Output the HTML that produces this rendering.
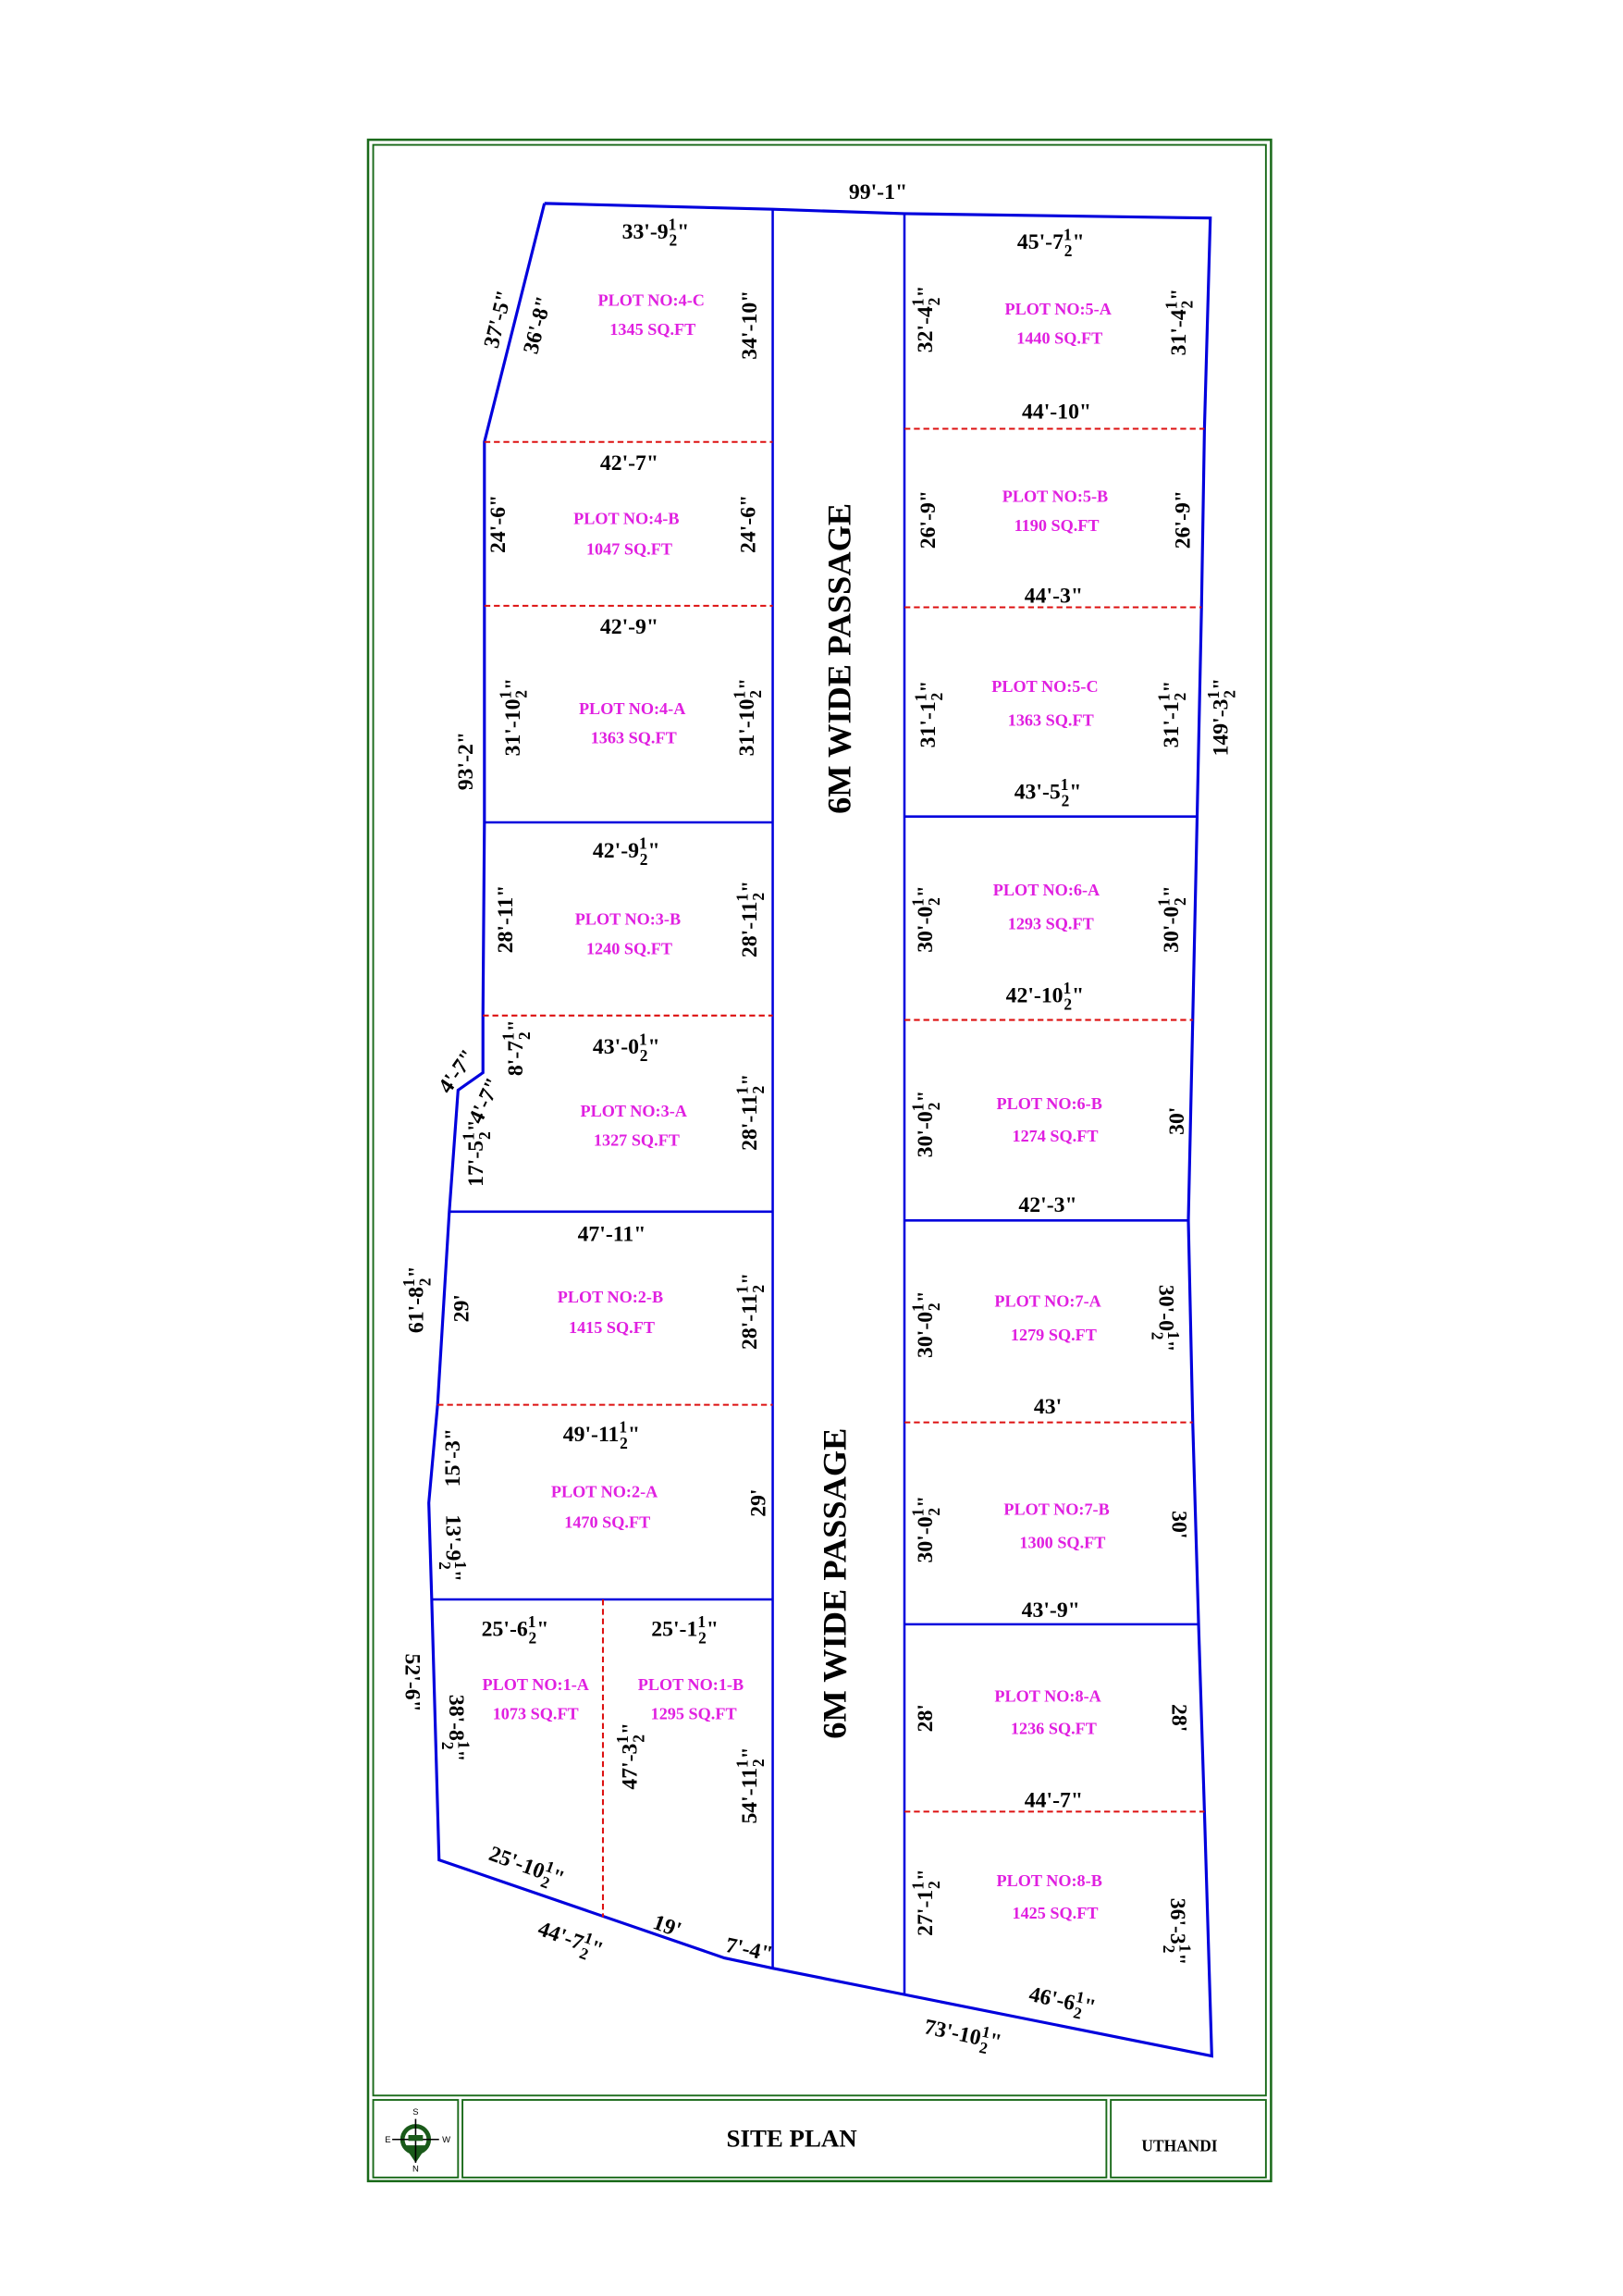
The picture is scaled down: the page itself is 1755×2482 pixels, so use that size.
<!DOCTYPE html>
<html><head><meta charset="utf-8"><style>
html,body{margin:0;padding:0;background:#fff}
svg{display:block}
.d{font-family:"Liberation Serif",serif;font-weight:bold;font-size:15px;fill:#000;text-anchor:middle}
.p{font-family:"Liberation Serif",serif;font-weight:bold;font-size:11.5px;fill:#e020e0;text-anchor:middle}
.f{font-size:11px}
</style></head><body>
<svg width="1755" height="2482" viewBox="0 0 1109 1569" preserveAspectRatio="none" xmlns="http://www.w3.org/2000/svg">
<g fill="none" stroke="#1a6a1a">
<rect x="251.5" y="95.5" width="617" height="1395" stroke-width="1.6"/>
<rect x="255" y="99" width="610" height="1333" stroke-width="1.2"/>
<rect x="255" y="1435" width="58" height="53" stroke-width="1.2"/>
<rect x="316" y="1435" width="440" height="53" stroke-width="1.2"/>
<rect x="759" y="1435" width="106" height="53" stroke-width="1.2"/>
</g>
<g fill="none" stroke="#0000dd" stroke-width="2">
<polyline points="372,139 528,143 618,146 827,149 823,293 821,415 818,558 815,697 812,834 815,972 819,1110 823,1238 828,1405 618,1363 528,1345 495,1338 300,1271 295,1093 293,1027 299,960 307,828 313,745 330,733 330,693 331,562 331,302 372,139"/>
</g>
<g stroke="#0000dd" stroke-width="1.6">
<line x1="528" y1="143" x2="528" y2="1345"/>
<line x1="618" y1="146" x2="618" y2="1363"/>
<line x1="331" y1="562" x2="528" y2="562"/>
<line x1="307" y1="828" x2="528" y2="828"/>
<line x1="295" y1="1093" x2="528" y2="1093"/>
<line x1="618" y1="558" x2="818" y2="558"/>
<line x1="618" y1="834" x2="812" y2="834"/>
<line x1="618" y1="1110" x2="819" y2="1110"/>
</g>
<g stroke="#dd1111" stroke-width="1.3" stroke-dasharray="4,2.5">
<line x1="331" y1="302" x2="528" y2="302"/>
<line x1="331" y1="414" x2="528" y2="414"/>
<line x1="330" y1="694" x2="528" y2="694"/>
<line x1="299" y1="960" x2="528" y2="960"/>
<line x1="618" y1="293" x2="823" y2="293"/>
<line x1="618" y1="415" x2="821" y2="415"/>
<line x1="618" y1="697" x2="815" y2="697"/>
<line x1="618" y1="972" x2="815" y2="972"/>
<line x1="618" y1="1238" x2="823" y2="1238"/>
<line x1="412" y1="1093" x2="412" y2="1310"/>
</g>

<text class="d" style="font-size:23px" transform="rotate(-90 573 450)" x="573" y="458">6M WIDE PASSAGE</text>
<text class="d" style="font-size:23px" transform="rotate(-90 570 1082)" x="570" y="1090">6M WIDE PASSAGE</text>

<g class="p">
<text x="445" y="209">PLOT NO:4-C</text><text x="446" y="229">1345 SQ.FT</text>
<text x="723" y="215">PLOT NO:5-A</text><text x="724" y="235">1440 SQ.FT</text>
<text x="428" y="358">PLOT NO:4-B</text><text x="430" y="379">1047 SQ.FT</text>
<text x="721" y="343">PLOT NO:5-B</text><text x="722" y="363">1190 SQ.FT</text>
<text x="432" y="488">PLOT NO:4-A</text><text x="433" y="508">1363 SQ.FT</text>
<text x="714" y="473">PLOT NO:5-C</text><text x="718" y="496">1363 SQ.FT</text>
<text x="429" y="632">PLOT NO:3-B</text><text x="430" y="652">1240 SQ.FT</text>
<text x="715" y="612">PLOT NO:6-A</text><text x="718" y="635">1293 SQ.FT</text>
<text x="433" y="763">PLOT NO:3-A</text><text x="435" y="783">1327 SQ.FT</text>
<text x="717" y="758">PLOT NO:6-B</text><text x="721" y="780">1274 SQ.FT</text>
<text x="417" y="890">PLOT NO:2-B</text><text x="418" y="911">1415 SQ.FT</text>
<text x="716" y="893">PLOT NO:7-A</text><text x="720" y="916">1279 SQ.FT</text>
<text x="413" y="1023">PLOT NO:2-A</text><text x="415" y="1044">1470 SQ.FT</text>
<text x="722" y="1035">PLOT NO:7-B</text><text x="726" y="1058">1300 SQ.FT</text>
<text x="366" y="1155">PLOT NO:1-A</text><text x="366" y="1175">1073 SQ.FT</text>
<text x="472" y="1155">PLOT NO:1-B</text><text x="474" y="1175">1295 SQ.FT</text>
<text x="716" y="1163">PLOT NO:8-A</text><text x="720" y="1185">1236 SQ.FT</text>
<text x="717" y="1289">PLOT NO:8-B</text><text x="721" y="1311">1425 SQ.FT</text>
</g>

<g class="d">
<text x="600" y="136">99'-1"</text>
<text x="448" y="163">33'-9<tspan class="f" dy="-6">1</tspan><tspan class="f" dx="-5" dy="11">2</tspan><tspan dy="-5">"</tspan></text>
<text x="718" y="170">45'-7<tspan class="f" dy="-6">1</tspan><tspan class="f" dx="-5" dy="11">2</tspan><tspan dy="-5">"</tspan></text>
<text transform="rotate(-76 340 218)" x="340" y="223">37'-5"</text>
<text transform="rotate(-76 367 222)" x="367" y="227">36'-8"</text>
<text transform="rotate(-90 512 222)" x="512" y="227">34'-10"</text>
<text transform="rotate(-90 632 218)" x="632" y="223">32'-4<tspan class="f" dy="-6">1</tspan><tspan class="f" dx="-5" dy="11">2</tspan><tspan dy="-5">"</tspan></text>
<text transform="rotate(-90 805 220)" x="805" y="225">31'-4<tspan class="f" dy="-6">1</tspan><tspan class="f" dx="-5" dy="11">2</tspan><tspan dy="-5">"</tspan></text>
<text x="722" y="286">44'-10"</text>
<text x="430" y="321">42'-7"</text>
<text transform="rotate(-90 340 358)" x="340" y="363">24'-6"</text>
<text transform="rotate(-90 511 358)" x="511" y="363">24'-6"</text>
<text transform="rotate(-90 634 355)" x="634" y="360">26'-9"</text>
<text transform="rotate(-90 808 355)" x="808" y="360">26'-9"</text>
<text x="720" y="412">44'-3"</text>
<text x="430" y="433">42'-9"</text>
<text transform="rotate(-90 350 490)" x="350" y="495">31'-10<tspan class="f" dy="-6">1</tspan><tspan class="f" dx="-5" dy="11">2</tspan><tspan dy="-5">"</tspan></text>
<text transform="rotate(-90 510 490)" x="510" y="495">31'-10<tspan class="f" dy="-6">1</tspan><tspan class="f" dx="-5" dy="11">2</tspan><tspan dy="-5">"</tspan></text>
<text transform="rotate(-90 318 520)" x="318" y="525">93'-2"</text>
<text transform="rotate(-90 634 488)" x="634" y="493">31'-1<tspan class="f" dy="-6">1</tspan><tspan class="f" dx="-5" dy="11">2</tspan><tspan dy="-5">"</tspan></text>
<text transform="rotate(-90 800 488)" x="800" y="493">31'-1<tspan class="f" dy="-6">1</tspan><tspan class="f" dx="-5" dy="11">2</tspan><tspan dy="-5">"</tspan></text>
<text transform="rotate(-90 834 490)" x="834" y="495">149'-3<tspan class="f" dy="-6">1</tspan><tspan class="f" dx="-5" dy="11">2</tspan><tspan dy="-5">"</tspan></text>
<text x="716" y="546">43'-5<tspan class="f" dy="-6">1</tspan><tspan class="f" dx="-5" dy="11">2</tspan><tspan dy="-5">"</tspan></text>
<text x="428" y="586">42'-9<tspan class="f" dy="-6">1</tspan><tspan class="f" dx="-5" dy="11">2</tspan><tspan dy="-5">"</tspan></text>
<text transform="rotate(-90 345 628)" x="345" y="633">28'-11"</text>
<text transform="rotate(-90 512 628)" x="512" y="633">28'-11<tspan class="f" dy="-6">1</tspan><tspan class="f" dx="-5" dy="11">2</tspan><tspan dy="-5">"</tspan></text>
<text transform="rotate(-90 632 628)" x="632" y="633">30'-0<tspan class="f" dy="-6">1</tspan><tspan class="f" dx="-5" dy="11">2</tspan><tspan dy="-5">"</tspan></text>
<text transform="rotate(-90 800 628)" x="800" y="633">30'-0<tspan class="f" dy="-6">1</tspan><tspan class="f" dx="-5" dy="11">2</tspan><tspan dy="-5">"</tspan></text>
<text x="714" y="685">42'-10<tspan class="f" dy="-6">1</tspan><tspan class="f" dx="-5" dy="11">2</tspan><tspan dy="-5">"</tspan></text>
<text x="428" y="720">43'-0<tspan class="f" dy="-6">1</tspan><tspan class="f" dx="-5" dy="11">2</tspan><tspan dy="-5">"</tspan></text>
<text transform="rotate(-90 352 716)" x="352" y="721">8'-7<tspan class="f" dy="-6">1</tspan><tspan class="f" dx="-5" dy="11">2</tspan><tspan dy="-5">"</tspan></text>
<text transform="rotate(-55 312 732)" x="312" y="737">4'-7"</text>
<text transform="rotate(-65 331 752)" x="331" y="757">4'-7"</text>
<text transform="rotate(-90 325 788)" x="325" y="793">17'-5<tspan class="f" dy="-6">1</tspan><tspan class="f" dx="-5" dy="11">2</tspan><tspan dy="-5">"</tspan></text>
<text transform="rotate(-90 512 760)" x="512" y="765">28'-11<tspan class="f" dy="-6">1</tspan><tspan class="f" dx="-5" dy="11">2</tspan><tspan dy="-5">"</tspan></text>
<text transform="rotate(-90 632 768)" x="632" y="773">30'-0<tspan class="f" dy="-6">1</tspan><tspan class="f" dx="-5" dy="11">2</tspan><tspan dy="-5">"</tspan></text>
<text transform="rotate(-90 804 766)" x="804" y="771">30'</text>
<text x="716" y="828">42'-3"</text>
<text x="418" y="848">47'-11"</text>
<text transform="rotate(-90 284 888)" x="284" y="893">61'-8<tspan class="f" dy="-6">1</tspan><tspan class="f" dx="-5" dy="11">2</tspan><tspan dy="-5">"</tspan></text>
<text transform="rotate(-90 315 894)" x="315" y="899">29'</text>
<text transform="rotate(-90 512 896)" x="512" y="901">28'-11<tspan class="f" dy="-6">1</tspan><tspan class="f" dx="-5" dy="11">2</tspan><tspan dy="-5">"</tspan></text>
<text transform="rotate(-90 632 905)" x="632" y="910">30'-0<tspan class="f" dy="-6">1</tspan><tspan class="f" dx="-5" dy="11">2</tspan><tspan dy="-5">"</tspan></text>
<text transform="rotate(90 797 901)" x="797" y="906">30'-0<tspan class="f" dy="-6">1</tspan><tspan class="f" dx="-5" dy="11">2</tspan><tspan dy="-5">"</tspan></text>
<text x="716" y="966">43'</text>
<text x="411" y="985">49'-11<tspan class="f" dy="-6">1</tspan><tspan class="f" dx="-5" dy="11">2</tspan><tspan dy="-5">"</tspan></text>
<text transform="rotate(-90 309 996)" x="309" y="1001">15'-3"</text>
<text transform="rotate(90 310 1058)" x="310" y="1063">13'-9<tspan class="f" dy="-6">1</tspan><tspan class="f" dx="-5" dy="11">2</tspan><tspan dy="-5">"</tspan></text>
<text transform="rotate(-90 518 1027)" x="518" y="1032">29'</text>
<text transform="rotate(-90 632 1045)" x="632" y="1050">30'-0<tspan class="f" dy="-6">1</tspan><tspan class="f" dx="-5" dy="11">2</tspan><tspan dy="-5">"</tspan></text>
<text transform="rotate(90 806 1042)" x="806" y="1047">30'</text>
<text x="718" y="1105">43'-9"</text>
<text x="352" y="1118">25'-6<tspan class="f" dy="-6">1</tspan><tspan class="f" dx="-5" dy="11">2</tspan><tspan dy="-5">"</tspan></text>
<text x="468" y="1118">25'-1<tspan class="f" dy="-6">1</tspan><tspan class="f" dx="-5" dy="11">2</tspan><tspan dy="-5">"</tspan></text>
<text transform="rotate(90 282 1150)" x="282" y="1155">52'-6"</text>
<text transform="rotate(90 312 1181)" x="312" y="1186">38'-8<tspan class="f" dy="-6">1</tspan><tspan class="f" dx="-5" dy="11">2</tspan><tspan dy="-5">"</tspan></text>
<text transform="rotate(-90 430 1200)" x="430" y="1205">47'-3<tspan class="f" dy="-6">1</tspan><tspan class="f" dx="-5" dy="11">2</tspan><tspan dy="-5">"</tspan></text>
<text transform="rotate(-90 512 1220)" x="512" y="1225">54'-11<tspan class="f" dy="-6">1</tspan><tspan class="f" dx="-5" dy="11">2</tspan><tspan dy="-5">"</tspan></text>
<text transform="rotate(-90 632 1174)" x="632" y="1179">28'</text>
<text transform="rotate(90 806 1174)" x="806" y="1179">28'</text>
<text x="720" y="1235">44'-7"</text>
<text transform="rotate(20 360 1275)" x="360" y="1280">25'-10<tspan class="f" dy="-6">1</tspan><tspan class="f" dx="-5" dy="11">2</tspan><tspan dy="-5">"</tspan></text>
<text transform="rotate(20 390 1325)" x="390" y="1330">44'-7<tspan class="f" dy="-6">1</tspan><tspan class="f" dx="-5" dy="11">2</tspan><tspan dy="-5">"</tspan></text>
<text transform="rotate(20 456 1316)" x="456" y="1321">19'</text>
<text transform="rotate(12 512 1332)" x="512" y="1337">7'-4"</text>
<text transform="rotate(-90 632 1300)" x="632" y="1305">27'-1<tspan class="f" dy="-6">1</tspan><tspan class="f" dx="-5" dy="11">2</tspan><tspan dy="-5">"</tspan></text>
<text transform="rotate(90 805 1320)" x="805" y="1325">36'-3<tspan class="f" dy="-6">1</tspan><tspan class="f" dx="-5" dy="11">2</tspan><tspan dy="-5">"</tspan></text>
<text transform="rotate(12 726 1367)" x="726" y="1372">46'-6<tspan class="f" dy="-6">1</tspan><tspan class="f" dx="-5" dy="11">2</tspan><tspan dy="-5">"</tspan></text>
<text transform="rotate(12 658 1390)" x="658" y="1395">73'-10<tspan class="f" dy="-6">1</tspan><tspan class="f" dx="-5" dy="11">2</tspan><tspan dy="-5">"</tspan></text>
<text x="541" y="1467" style="font-size:17px">SITE PLAN</text>
<text x="806" y="1470" style="font-size:11px">UTHANDI</text>
</g>
<g>
<circle cx="284" cy="1462" r="9" fill="none" stroke="#1a5a1a" stroke-width="3"/>
<path d="M276,1466 L284,1478 L292,1466 Z" fill="#1a5a1a"/>
<line x1="284" y1="1448" x2="284" y2="1478" stroke="#000" stroke-width="1"/>
<line x1="268" y1="1462" x2="300" y2="1462" stroke="#000" stroke-width="1"/>
<rect x="279" y="1459" width="10" height="4" fill="#1a5a1a"/>
<g font-family="Liberation Sans,sans-serif" font-size="6" text-anchor="middle" fill="#000">
<text x="284" y="1445">S</text><text x="284" y="1484">N</text><text x="265" y="1464">E</text><text x="305" y="1464">W</text>
</g>
</g>
</svg>
</body></html>
